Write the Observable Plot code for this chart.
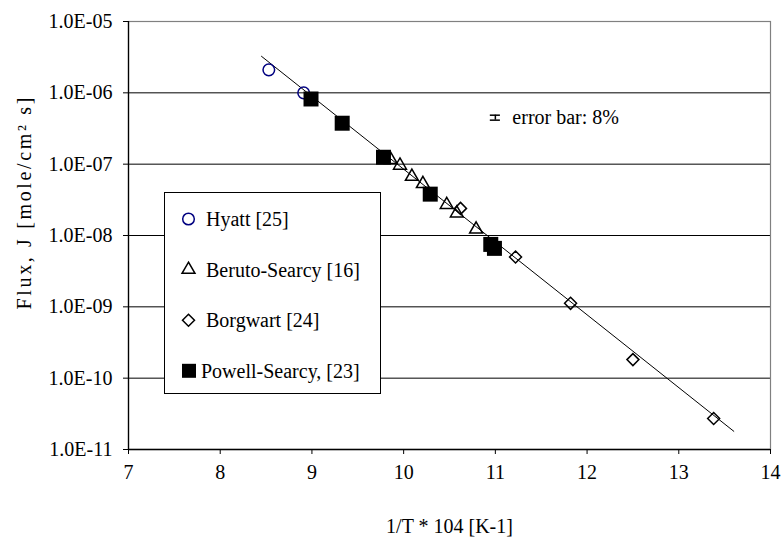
<!DOCTYPE html>
<html>
<head>
<meta charset="utf-8">
<script src="https://cdn.jsdelivr.net/npm/d3@7"></script>
<script src="https://cdn.jsdelivr.net/npm/@observablehq/plot@0.6"></script>
<style>
  html, body { margin: 0; padding: 0; background: #fff; }
  #wrap { position: relative; width: 782px; height: 537px; }
  #wrap, #wrap svg, #wrap text { font-family: "Liberation Serif", "Times New Roman", serif !important; }
  #legend { position: absolute; left: 164px; top: 192px; width: 217px; height: 202px; box-sizing: border-box; border: 1px solid #000; background: #fff; }
  #legend svg { display: block; }
</style>
</head>
<body>
<div id="wrap"></div>
<script>
// ---- data ----
const seriesNames = ["Hyatt [25]", "Beruto-Searcy [16]", "Borgwart [24]", "Powell-Searcy, [23]"];

const hyattX = [8.53, 8.91];
const hyattJ = [2.1e-6, 1.0e-6];

const berutoX = [9.86, 9.96, 10.09, 10.21, 10.47, 10.58, 10.79];
const berutoJ = [1.15e-7, 9.6e-8, 6.7e-8, 5.3e-8, 2.7e-8, 2.05e-8, 1.22e-8];

const borgX = [10.62, 11.22, 11.82, 12.5, 13.38];
const borgJ = [2.4e-8, 5.0e-9, 1.12e-9, 1.82e-10, 2.72e-11];

const powellX = [8.99, 9.33, 9.78, 10.29, 10.95, 10.99];
const powellJ = [8.2e-7, 3.75e-7, 1.25e-7, 3.8e-8, 7.5e-9, 6.6e-9];

const fitX = [8.45, 13.6];
const fitJ = [3.25e-6, 1.8e-11];

const errX = [11.0];
const errJ = [4.5e-7];
const errPct = 0.08;
const errLabel = "error bar: 8%";

const xTicks = [7, 8, 9, 10, 11, 12, 13, 14];
const yTicks = [1e-11, 1e-10, 1e-9, 1e-8, 1e-7, 1e-6, 1e-5];
const xTitle = "1/T * 104 [K-1]";
const yTitle = "Flux, J [mole/cm\u00B2 s]";

// ---- helpers ----
const zip = (xs, ys) => xs.map((x, i) => ({x, y: ys[i]}));
const fmtE = d => {
  const e = Math.round(Math.log10(d));
  return "1.0E" + (e < 0 ? "-" : "+") + String(Math.abs(e)).padStart(2, "0");
};
const serif = "'Liberation Serif', 'Times New Roman', serif";

const styles = [
  {symbol: "circle",   r: 5.8, fill: "none", stroke: "#000080", strokeWidth: 1.5},
  {symbol: "triangle", r: 4.8, fill: "none", stroke: "#000", strokeWidth: 1.5},
  {symbol: "diamond2", r: 5.4, fill: "none", stroke: "#000", strokeWidth: 1.5},
  {symbol: "square",   r: 8.46, fill: "#000", stroke: "none", strokeWidth: 0}
];
const seriesData = [zip(hyattX, hyattJ), zip(berutoX, berutoJ), zip(borgX, borgJ), zip(powellX, powellJ)];
const errData = zip(errX, errJ).map(d => ({...d, lo: d.y * (1 - errPct), hi: d.y * (1 + errPct), x1: d.x - 0.055, x2: d.x + 0.055}));

const chart = Plot.plot({
  width: 782,
  height: 537,
  marginLeft: 128,
  marginRight: 12,
  marginTop: 21,
  marginBottom: 88,
  style: {fontFamily: serif, fontSize: "20px", color: "#000", background: "#fff", overflow: "visible"},
  x: {domain: [7, 14]},
  y: {type: "log", domain: [1e-11, 1e-5]},
  marks: [
    Plot.gridY(yTicks.slice(1, -1), {stroke: "#000", strokeOpacity: 1, strokeWidth: 1}),
    Plot.frame({stroke: "#808080", strokeWidth: 1.2}),
    Plot.ruleX([7], {stroke: "#000", strokeWidth: 1.3}),
    Plot.ruleY([1e-11], {stroke: "#000", strokeWidth: 1.3}),
    Plot.axisX(xTicks, {tickSize: 5, tickPadding: 10, tickFormat: d => String(d), label: null, stroke: "#000", fontFamily: serif}),
    Plot.axisY(yTicks, {tickSize: 5, tickPadding: 11, tickFormat: fmtE, label: null, stroke: "#000", fontFamily: serif}),
    Plot.text([xTitle], {frameAnchor: "bottom", dy: 83, lineAnchor: "bottom", textAnchor: "middle", fontSize: 20, fill: "#000", fontFamily: serif}),
    Plot.text([yTitle], {frameAnchor: "left", dx: -104, dy: -32, rotate: -90, textAnchor: "middle", lineAnchor: "middle", fontSize: 20, fill: "#000", fontFamily: serif}),
    Plot.line(zip(fitX, fitJ), {x: "x", y: "y", stroke: "#000", strokeWidth: 1}),
    ...seriesData.map((data, i) => Plot.dot(data, {x: "x", y: "y", ...styles[i]})),
    Plot.ruleX(errData, {x: "x", y1: "lo", y2: "hi", stroke: "#000", strokeWidth: 1.5}),
    Plot.ruleY(errData, {y: "lo", x1: "x1", x2: "x2", stroke: "#000", strokeWidth: 1.5}),
    Plot.ruleY(errData, {y: "hi", x1: "x1", x2: "x2", stroke: "#000", strokeWidth: 1.5}),
    Plot.text(errData, {x: "x", y: "y", text: () => errLabel, dx: 17, textAnchor: "start", fontSize: 20, fill: "#000", fontFamily: serif})
  ]
});

const wrap = document.getElementById("wrap");
wrap.appendChild(chart);

// stretch the rotated axis title like the reference (Excel's spaced rotated text)
d3.select(chart).selectAll("text")
  .filter(function () { return this.textContent === yTitle; })
  .attr("textLength", 212)
  .attr("lengthAdjust", "spacing");

// ---- legend (inside plot area, Excel style) ----
const legend = document.createElement("div");
legend.id = "legend";
wrap.appendChild(legend);
const lsvg = d3.select(legend).append("svg").attr("width", 215).attr("height", 200);
const symMap = {circle: d3.symbolCircle, triangle: d3.symbolTriangle, diamond2: d3.symbolDiamond2, square: d3.symbolSquare};
seriesNames.forEach((name, i) => {
  const st = styles[i];
  const cy = 26 + 50.6 * i;
  const g = lsvg.append("g").attr("transform", `translate(${st.symbol === "square" ? 24 : 23.5},${cy})`);
  const size = st.symbol === "square" ? 14 * 14 : st.r * st.r * Math.PI;
  g.append("path")
    .attr("d", d3.symbol(symMap[st.symbol], size)())
    .attr("fill", st.fill)
    .attr("stroke", st.stroke)
    .attr("stroke-width", st.strokeWidth);
  lsvg.append("text")
    .attr("x", st.symbol === "square" ? 36 : 41)
    .attr("y", cy + 7)
    .attr("font-family", serif)
    .attr("font-size", 20)
    .attr("fill", "#000")
    .text(name);
});
</script>
</body>
</html>
